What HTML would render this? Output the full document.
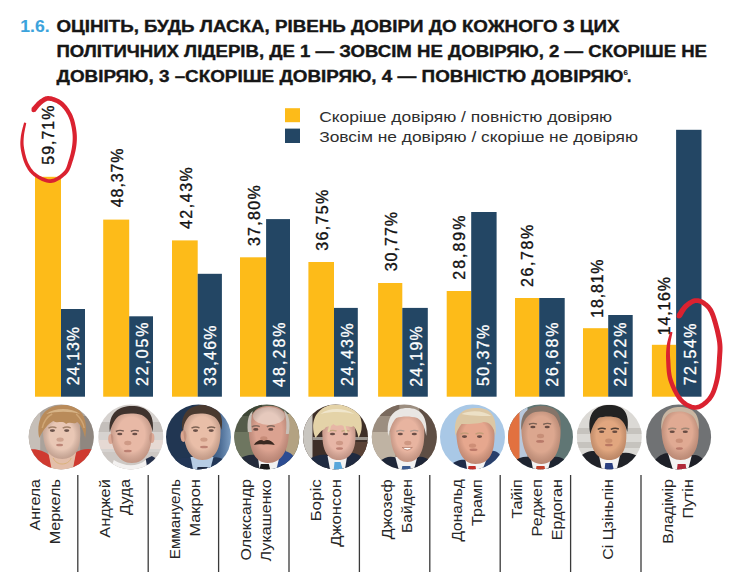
<!DOCTYPE html><html><head><meta charset="utf-8"><style>html,body{margin:0;padding:0;background:#fff;}svg{display:block;}text{font-family:"Liberation Sans",sans-serif;}</style></head><body><svg width="736" height="587" viewBox="0 0 736 587"><rect width="736" height="587" fill="#fff"/><g font-weight="bold" font-size="15.6" fill="#161616" stroke="#161616" stroke-width="0.35"><text x="20.3" y="32" fill="#3BA3DC" stroke="#3BA3DC" stroke-width="0.1" textLength="29.3" lengthAdjust="spacingAndGlyphs">1.6.</text><text x="56.5" y="32" textLength="563" lengthAdjust="spacingAndGlyphs">ОЦІНІТЬ, БУДЬ ЛАСКА, РІВЕНЬ ДОВІРИ ДО КОЖНОГО З ЦИХ</text><text x="56.5" y="56.6" textLength="650.5" lengthAdjust="spacingAndGlyphs">ПОЛІТИЧНИХ ЛІДЕРІВ, ДЕ 1 — ЗОВСІМ НЕ ДОВІРЯЮ, 2 — СКОРІШЕ НЕ</text><text x="56.5" y="81.5" textLength="567" lengthAdjust="spacingAndGlyphs">ДОВІРЯЮ, 3 –СКОРІШЕ ДОВІРЯЮ, 4 — ПОВНІСТЮ ДОВІРЯЮ</text><text x="623.5" y="74.5" font-size="8" stroke-width="0.1">6</text><text x="627" y="81.5">.</text></g><rect x="285" y="108.2" width="15" height="14" fill="#FDBB19"/><rect x="285" y="128.6" width="15" height="14.4" fill="#234664"/><g font-size="14.6" fill="#2e2e2e"><text x="319.2" y="121.8" textLength="293" lengthAdjust="spacingAndGlyphs">Скоріше довіряю / повністю довіряю</text><text x="319.2" y="142.1" textLength="318.8" lengthAdjust="spacingAndGlyphs">Зовсім не довіряю / скоріше не довіряю</text></g><rect x="35.00" y="176.80" width="26.00" height="219.90" fill="#FDBB19"/><rect x="61.00" y="309.00" width="24.00" height="87.70" fill="#234664"/><text transform="translate(53.90 164.70) rotate(-90)" font-size="16" textLength="59.10" fill="#111" stroke="#111" stroke-width="0.35">59,71%</text><text transform="translate(78.90 385.30) rotate(-90)" font-size="16" textLength="58.30" fill="#fff" stroke="#fff" stroke-width="0.3">24,13%</text><rect x="103.20" y="219.60" width="26.00" height="177.10" fill="#FDBB19"/><rect x="129.20" y="316.30" width="23.80" height="80.40" fill="#234664"/><text transform="translate(123.20 207.20) rotate(-90)" font-size="16" textLength="58.80" fill="#111" stroke="#111" stroke-width="0.35">48,37%</text><text transform="translate(147.70 386.10) rotate(-90)" font-size="16" textLength="63.70" fill="#fff" stroke="#fff" stroke-width="0.3">22,05%</text><rect x="172.00" y="240.40" width="25.70" height="156.30" fill="#FDBB19"/><rect x="197.70" y="273.80" width="24.20" height="122.90" fill="#234664"/><text transform="translate(191.60 229.10) rotate(-90)" font-size="16" textLength="61.90" fill="#111" stroke="#111" stroke-width="0.35">42,43%</text><text transform="translate(215.60 386.10) rotate(-90)" font-size="16" textLength="60.70" fill="#fff" stroke="#fff" stroke-width="0.3">33,46%</text><rect x="240.00" y="257.30" width="26.10" height="139.40" fill="#FDBB19"/><rect x="266.10" y="219.10" width="23.90" height="177.60" fill="#234664"/><text transform="translate(259.60 246.10) rotate(-90)" font-size="16" textLength="60.90" fill="#111" stroke="#111" stroke-width="0.35">37,80%</text><text transform="translate(284.60 386.90) rotate(-90)" font-size="16" textLength="64.50" fill="#fff" stroke="#fff" stroke-width="0.3">48,28%</text><rect x="308.40" y="262.00" width="25.60" height="134.70" fill="#FDBB19"/><rect x="334.00" y="307.90" width="23.80" height="88.80" fill="#234664"/><text transform="translate(327.60 250.70) rotate(-90)" font-size="16" textLength="60.90" fill="#111" stroke="#111" stroke-width="0.35">36,75%</text><text transform="translate(352.90 386.10) rotate(-90)" font-size="16" textLength="62.90" fill="#fff" stroke="#fff" stroke-width="0.3">24,43%</text><rect x="378.10" y="283.00" width="24.20" height="113.70" fill="#FDBB19"/><rect x="402.30" y="307.90" width="25.50" height="88.80" fill="#234664"/><text transform="translate(396.60 271.30) rotate(-90)" font-size="16" textLength="59.40" fill="#111" stroke="#111" stroke-width="0.35">30,77%</text><text transform="translate(421.60 386.80) rotate(-90)" font-size="16" textLength="60.60" fill="#fff" stroke="#fff" stroke-width="0.3">24,19%</text><rect x="446.70" y="291.00" width="24.50" height="105.70" fill="#FDBB19"/><rect x="471.20" y="212.00" width="25.40" height="184.70" fill="#234664"/><text transform="translate(465.00 279.70) rotate(-90)" font-size="16" textLength="64.10" fill="#111" stroke="#111" stroke-width="0.35">28,89%</text><text transform="translate(489.10 386.10) rotate(-90)" font-size="16" textLength="61.40" fill="#fff" stroke="#fff" stroke-width="0.3">50,37%</text><rect x="515.00" y="298.00" width="24.20" height="98.70" fill="#FDBB19"/><rect x="539.20" y="298.00" width="25.50" height="98.70" fill="#234664"/><text transform="translate(533.10 287.00) rotate(-90)" font-size="16" textLength="62.30" fill="#111" stroke="#111" stroke-width="0.35">26,78%</text><text transform="translate(558.10 386.80) rotate(-90)" font-size="16" textLength="64.40" fill="#fff" stroke="#fff" stroke-width="0.3">26,68%</text><rect x="583.00" y="328.20" width="25.20" height="68.50" fill="#FDBB19"/><rect x="608.20" y="315.00" width="24.50" height="81.70" fill="#234664"/><text transform="translate(602.60 317.80) rotate(-90)" font-size="16" textLength="58.40" fill="#111" stroke="#111" stroke-width="0.35">18,81%</text><text transform="translate(626.40 386.70) rotate(-90)" font-size="16" textLength="64.30" fill="#fff" stroke="#fff" stroke-width="0.3">22,22%</text><rect x="651.90" y="344.80" width="24.20" height="51.90" fill="#FDBB19"/><rect x="676.10" y="129.80" width="25.40" height="266.90" fill="#234664"/><text transform="translate(670.00 335.20) rotate(-90)" font-size="16" textLength="58.20" fill="#111" stroke="#111" stroke-width="0.35">14,16%</text><text transform="translate(695.60 385.30) rotate(-90)" font-size="16" textLength="61.90" fill="#fff" stroke="#fff" stroke-width="0.3">72,54%</text><line x1="77.80" y1="475" x2="77.80" y2="572" stroke="#3a3a3a" stroke-width="1.3"/><line x1="148.20" y1="475" x2="148.20" y2="572" stroke="#3a3a3a" stroke-width="1.3"/><line x1="218.60" y1="475" x2="218.60" y2="572" stroke="#3a3a3a" stroke-width="1.3"/><line x1="289.00" y1="475" x2="289.00" y2="572" stroke="#3a3a3a" stroke-width="1.3"/><line x1="359.40" y1="475" x2="359.40" y2="572" stroke="#3a3a3a" stroke-width="1.3"/><line x1="429.80" y1="475" x2="429.80" y2="572" stroke="#3a3a3a" stroke-width="1.3"/><line x1="500.20" y1="475" x2="500.20" y2="572" stroke="#3a3a3a" stroke-width="1.3"/><line x1="570.60" y1="475" x2="570.60" y2="572" stroke="#3a3a3a" stroke-width="1.3"/><line x1="641.00" y1="475" x2="641.00" y2="572" stroke="#3a3a3a" stroke-width="1.3"/><g font-size="14.6" fill="#262626" text-anchor="end"><text transform="translate(39.50 479.20) rotate(-90)" textLength="51.26" lengthAdjust="spacingAndGlyphs">Ангела</text><text transform="translate(59.50 479.20) rotate(-90)" textLength="65.16" lengthAdjust="spacingAndGlyphs">Меркель</text><text transform="translate(109.90 479.20) rotate(-90)" textLength="58.52" lengthAdjust="spacingAndGlyphs">Анджей</text><text transform="translate(129.90 479.20) rotate(-90)" textLength="35.79" lengthAdjust="spacingAndGlyphs">Дуда</text><text transform="translate(180.30 479.20) rotate(-90)" textLength="80.05" lengthAdjust="spacingAndGlyphs">Еммануель</text><text transform="translate(200.30 479.20) rotate(-90)" textLength="57.43" lengthAdjust="spacingAndGlyphs">Макрон</text><text transform="translate(250.70 479.20) rotate(-90)" textLength="81.35" lengthAdjust="spacingAndGlyphs">Олександр</text><text transform="translate(270.70 479.20) rotate(-90)" textLength="82.19" lengthAdjust="spacingAndGlyphs">Лукашенко</text><text transform="translate(321.10 479.20) rotate(-90)" textLength="42.38" lengthAdjust="spacingAndGlyphs">Боріс</text><text transform="translate(341.10 479.20) rotate(-90)" textLength="67.65" lengthAdjust="spacingAndGlyphs">Джонсон</text><text transform="translate(391.50 479.20) rotate(-90)" textLength="59.95" lengthAdjust="spacingAndGlyphs">Джозеф</text><text transform="translate(411.50 479.20) rotate(-90)" textLength="53.69" lengthAdjust="spacingAndGlyphs">Байден</text><text transform="translate(461.90 479.20) rotate(-90)" textLength="62.38" lengthAdjust="spacingAndGlyphs">Дональд</text><text transform="translate(481.90 479.20) rotate(-90)" textLength="46.75" lengthAdjust="spacingAndGlyphs">Трамп</text><text transform="translate(522.30 479.20) rotate(-90)" textLength="39.43" lengthAdjust="spacingAndGlyphs">Тайіп</text><text transform="translate(542.30 479.20) rotate(-90)" textLength="57.21" lengthAdjust="spacingAndGlyphs">Реджеп</text><text transform="translate(562.30 479.20) rotate(-90)" textLength="60.98" lengthAdjust="spacingAndGlyphs">Ердоган</text><text transform="translate(612.70 479.20) rotate(-90)" textLength="80.66" lengthAdjust="spacingAndGlyphs">Сі Цзіньпін</text><text transform="translate(673.10 479.20) rotate(-90)" textLength="64.60" lengthAdjust="spacingAndGlyphs">Владімір</text><text transform="translate(693.10 479.20) rotate(-90)" textLength="39.43" lengthAdjust="spacingAndGlyphs">Путін</text></g><defs><clipPath id="pc"><circle cx="35" cy="35" r="32.50"/></clipPath><radialGradient id="fs" cx="0.5" cy="0.45" r="0.6"><stop offset="0.55" stop-color="#000" stop-opacity="0"/><stop offset="1" stop-color="#502010" stop-opacity="0.28"/></radialGradient><radialGradient id="vg" cx="0.5" cy="0.5" r="0.5"><stop offset="0.8" stop-color="#fff" stop-opacity="0"/><stop offset="1" stop-color="#fff" stop-opacity="0.25"/></radialGradient></defs><g transform="translate(26.20 402.00)"><g clip-path="url(#pc)"><rect width="70" height="70" fill="#aaa29b"/><rect x="0" y="0" width="14" height="70" fill="#c6bfb8"/><rect x="54" y="14" width="16" height="40" fill="#8f8780"/><path d="M0,48 C8,46 18,48 24,54 L26,70 L0,70 Z" fill="#cf3a30"/><path d="M70,48 C62,46 54,47 49,51 L46,70 L70,70 Z" fill="#cf3a30"/><path d="M22,50 L50,50 L46,70 L26,70 Z" fill="#e3bea9"/><path d="M27,56 C30,64 42,64 45,56" stroke="#d8b070" stroke-width="0.8" fill="none"/><path d="M17,33 C16,18 24,14 36,14 C48,14 55,18 54,33 C54,48 48,57 36,57 C24,57 18,48 17,33 Z" fill="#e9c7b5"/><path fill="url(#fs)" d="M17,33 C16,18 24,14 36,14 C48,14 55,18 54,33 C54,48 48,57 36,57 C24,57 18,48 17,33 Z"/><path d="M22.2,26.1 Q26.2,24.1 30.2,25.8" stroke="#8a6a50" stroke-width="1.4" fill="none" opacity="0.75"/><ellipse cx="26.2" cy="28.6" rx="2.6" ry="1.3" fill="#4a3430" opacity="0.8"/><path d="M36.5,26.1 Q40.5,24.1 44.5,25.8" stroke="#8a6a50" stroke-width="1.4" fill="none" opacity="0.75"/><ellipse cx="40.5" cy="28.6" rx="2.6" ry="1.3" fill="#4a3430" opacity="0.8"/><ellipse cx="33.9" cy="37.6" rx="3.6" ry="2.2" fill="#a0604a" opacity="0.35"/><ellipse cx="33.4" cy="43.0" rx="3.5" ry="1.3" fill="#a05a50" opacity="0.6"/><path d="M13,36 C9,14 21,3 37,3 C53,3 63,13 59,36 C57,28 55,23 51,20 C48,23 44,19 40,22 C36,18 31,22 27,19 C22,22 18,26 13,36 Z" fill="#b98b5a"/><path d="M20,12 C28,6 44,5 54,12 C44,9 30,9 20,12 Z" fill="#d7b488"/><path d="M16,26 C18,18 22,14 26,12 M50,12 C54,16 57,20 58,26" stroke="#cfa676" stroke-width="1.5" fill="none"/></g></g><g transform="translate(95.80 402.00)"><g clip-path="url(#pc)"><rect width="70" height="70" fill="#d6d2cf"/><rect x="0" y="20" width="70" height="10" fill="#c4bfbb"/><rect x="0" y="38" width="70" height="9" fill="#e6d9d3"/><rect x="0" y="50" width="70" height="20" fill="#cdc8c4"/><path d="M18,58 C28,64 40,66 50,58 L56,54 L62,60 L62,70 L14,70 Z" fill="#f3f1f0"/><path d="M50,57 L56,54 C60,56 62,58 63,60 L52,70 Z" fill="#24304a"/><path d="M15,32 C14,15 24,9 36,9 C48,9 57,15 56,32 C56,48 50,61 36,61 C23,61 16,48 15,32 Z" fill="#e8b9a6"/><ellipse cx="15" cy="37" rx="2.6" ry="5" fill="#dca895"/><ellipse cx="56" cy="36" rx="2.6" ry="5" fill="#dca895"/><path fill="url(#fs)" d="M15,32 C14,15 24,9 36,9 C48,9 57,15 56,32 C56,48 50,61 36,61 C23,61 16,48 15,32 Z"/><path d="M20.0,29.5 Q24.0,27.5 28.0,29.2" stroke="#4a3a34" stroke-width="1.4" fill="none" opacity="0.75"/><ellipse cx="24.0" cy="32.0" rx="2.6" ry="1.3" fill="#4a3430" opacity="0.8"/><path d="M35.0,29.5 Q39.0,27.5 43.0,29.2" stroke="#4a3a34" stroke-width="1.4" fill="none" opacity="0.75"/><ellipse cx="39.0" cy="32.0" rx="2.6" ry="1.3" fill="#4a3430" opacity="0.8"/><ellipse cx="32.0" cy="41.0" rx="3.6" ry="2.2" fill="#a0604a" opacity="0.35"/><ellipse cx="32.0" cy="49.0" rx="4.0" ry="1.3" fill="#a05a50" opacity="0.6"/><path d="M14,30 C12,10 24,4 36,4 C51,4 59,11 57,30 C55,21 52,16 46,13 C38,11 29,11 23,14 C18,18 16,24 14,30 Z" fill="#3f332e"/></g></g><g transform="translate(163.50 402.00)"><g clip-path="url(#pc)"><defs><linearGradient id="mgb" x1="0" y1="0" x2="1" y2="0"><stop offset="0.45" stop-color="#213652"/><stop offset="0.8" stop-color="#4a6a92"/><stop offset="1" stop-color="#86a8cc"/></linearGradient></defs><rect width="70" height="70" fill="url(#mgb)"/><path d="M4,62 C12,56 20,55 28,56 L36,70 L0,70 Z" fill="#223656"/><path d="M66,62 C60,56 54,54 48,56 L40,70 L70,70 Z" fill="#223656"/><path d="M27,55 L50,55 L46,70 L30,70 Z" fill="#b7cde4"/><path d="M34,65 L44,65 L45,70 L33,70 Z" fill="#1f2a40"/><path d="M20,30 C19,14 28,9 39,9 C50,9 58,14 57,30 C57,46 52,58 39,58 C27,58 21,46 20,30 Z" fill="#e9bea8"/><ellipse cx="20" cy="34" rx="3" ry="6" fill="#dba690"/><path fill="url(#fs)" d="M20,30 C19,14 28,9 39,9 C50,9 58,14 57,30 C57,46 52,58 39,58 C27,58 21,46 20,30 Z"/><path d="M28.0,26.1 Q32.0,24.1 36.0,25.8" stroke="#5a4438" stroke-width="1.4" fill="none" opacity="0.75"/><ellipse cx="32.0" cy="28.6" rx="2.6" ry="1.3" fill="#4a3430" opacity="0.8"/><path d="M43.7,26.1 Q47.7,24.1 51.7,25.8" stroke="#5a4438" stroke-width="1.4" fill="none" opacity="0.75"/><ellipse cx="47.7" cy="28.6" rx="2.6" ry="1.3" fill="#4a3430" opacity="0.8"/><ellipse cx="40.4" cy="37.6" rx="3.6" ry="2.2" fill="#a0604a" opacity="0.35"/><ellipse cx="40.5" cy="45.0" rx="4.0" ry="1.3" fill="#a05a50" opacity="0.6"/><path d="M19,30 C16,10 27,3 40,3 C53,3 61,11 58,28 C56,20 53,15 47,13 C40,11 31,11 26,14 C22,18 20,23 19,30 Z" fill="#4a3a30"/></g></g><g transform="translate(231.80 402.00)"><g clip-path="url(#pc)"><rect width="70" height="70" fill="#555c4a"/><rect x="0" y="30" width="22" height="30" fill="#6e7660"/><rect x="54" y="12" width="16" height="42" fill="#b3a282"/><rect x="0" y="0" width="30" height="14" fill="#3e4636"/><path d="M6,58 C14,52 22,52 28,54 L34,70 L0,70 Z" fill="#232a3a"/><path d="M64,58 C60,50 54,48 48,50 L40,70 L70,70 Z" fill="#2c4c92"/><path d="M26,54 L49,49 L44,70 L28,70 Z" fill="#f2f2f2"/><path d="M29,62 L37,62 L39,70 L27,70 Z" fill="#1a1a1a"/><path d="M17,30 C16,10 26,4 37,4 C49,4 58,10 57,30 C57,48 50,61 36,61 C23,61 18,48 17,30 Z" fill="#dba290"/><ellipse cx="37" cy="14" rx="16" ry="9" fill="#e8d3c8" opacity="0.8"/><path d="M22,43 C25,38 30,37 32,39 C35,37 40,38 43,43 C39,42 35,42 32,42.5 C29,42 25,42 22,43 Z" fill="#3a2820"/><path fill="url(#fs)" d="M17,30 C16,10 26,4 37,4 C49,4 58,10 57,30 C57,48 50,61 36,61 C23,61 18,48 17,30 Z"/><path d="M20.0,24.9 Q24.0,22.9 28.0,24.6" stroke="#6a5a50" stroke-width="1.4" fill="none" opacity="0.75"/><ellipse cx="24.0" cy="27.4" rx="2.6" ry="1.3" fill="#4a3430" opacity="0.8"/><path d="M35.0,24.9 Q39.0,22.9 43.0,24.6" stroke="#6a5a50" stroke-width="1.4" fill="none" opacity="0.75"/><ellipse cx="39.0" cy="27.4" rx="2.6" ry="1.3" fill="#4a3430" opacity="0.8"/><ellipse cx="32.0" cy="36.4" rx="3.6" ry="2.2" fill="#a0604a" opacity="0.35"/><path d="M16,30 C15,18 17,12 21,9 C19,16 19,22 20,30 Z" fill="#c8c0b8"/><path d="M57,32 C59,20 57,12 52,8 C55,16 55,24 54,32 Z" fill="#c8c0b8"/></g></g><g transform="translate(300.50 402.00)"><g clip-path="url(#pc)"><rect width="70" height="70" fill="#3e2f28"/><rect x="0" y="0" width="12" height="70" fill="#c9c6c0"/><rect x="12" y="35" width="58" height="3" fill="#9a948e"/><rect x="50" y="40" width="20" height="14" fill="#5a4236"/><path d="M8,58 C16,52 24,52 30,54 L36,70 L0,70 Z" fill="#1f2a40"/><path d="M64,58 C58,50 50,50 44,52 L36,70 L70,70 Z" fill="#1f2a40"/><path d="M27,54 L47,52 L44,70 L30,70 Z" fill="#f2f2f2"/><path d="M34,60 L40,60 L43,70 L33,70 Z" fill="#58a6da"/><path d="M22,34 C21,20 28,15 38,15 C49,15 56,20 55,34 C55,48 50,58 38,58 C27,58 22,48 22,34 Z" fill="#e7b6a6"/><path fill="url(#fs)" d="M22,34 C21,20 28,15 38,15 C49,15 56,20 55,34 C55,48 50,58 38,58 C27,58 22,48 22,34 Z"/><path d="M28.0,29.5 Q32.0,27.5 36.0,29.2" stroke="#b8a070" stroke-width="1.4" fill="none" opacity="0.75"/><ellipse cx="32.0" cy="32.0" rx="2.6" ry="1.3" fill="#4a3430" opacity="0.8"/><path d="M41.0,29.5 Q45.0,27.5 49.0,29.2" stroke="#b8a070" stroke-width="1.4" fill="none" opacity="0.75"/><ellipse cx="45.0" cy="32.0" rx="2.6" ry="1.3" fill="#4a3430" opacity="0.8"/><ellipse cx="39.0" cy="41.0" rx="3.6" ry="2.2" fill="#a0604a" opacity="0.35"/><ellipse cx="39.0" cy="46.5" rx="3.5" ry="1.3" fill="#a05a50" opacity="0.6"/><path d="M15,36 C11,28 12,16 18,10 C24,3 34,1 42,3 C52,4 60,10 61,20 C62,27 60,32 58,36 C57,30 55,26 53,24 C50,27 46,22 44,25 C40,21 36,26 33,22 C29,26 26,23 24,27 C21,28 19,31 15,36 Z" fill="#e4d3a8"/><path d="M20,12 C28,6 42,5 54,12 C46,10 32,9 20,12 Z" fill="#f0e6cc"/><path d="M30,22 L28,30 M44,24 L46,31" stroke="#e4d3a8" stroke-width="2"/></g></g><g transform="translate(369.30 402.00)"><g clip-path="url(#pc)"><rect width="70" height="70" fill="#9c8e80"/><rect x="0" y="30" width="26" height="30" fill="#bfb3a3"/><rect x="50" y="0" width="20" height="70" fill="#5e4e44"/><rect x="0" y="0" width="30" height="14" fill="#7a6a5e"/><path d="M10,60 C16,54 22,54 28,56 L36,70 L0,70 Z" fill="#1e2638"/><path d="M62,60 C56,54 50,54 46,56 L36,70 L70,70 Z" fill="#1e2638"/><path d="M26,55 L48,55 L44,70 L30,70 Z" fill="#f2f2f2"/><path d="M33,64 L41,64 L42,70 L32,70 Z" fill="#3a5a90"/><path d="M21,32 C20,17 28,12 38,12 C49,12 56,17 55,32 C55,48 50,60 38,60 C27,60 22,48 21,32 Z" fill="#e8b4a0"/><path fill="url(#fs)" d="M21,32 C20,17 28,12 38,12 C49,12 56,17 55,32 C55,48 50,60 38,60 C27,60 22,48 21,32 Z"/><path d="M27.0,29.5 Q31.0,27.5 35.0,29.2" stroke="#9a9088" stroke-width="1.4" fill="none" opacity="0.75"/><ellipse cx="31.0" cy="32.0" rx="2.6" ry="1.3" fill="#4a3430" opacity="0.8"/><path d="M41.0,29.5 Q45.0,27.5 49.0,29.2" stroke="#9a9088" stroke-width="1.4" fill="none" opacity="0.75"/><ellipse cx="45.0" cy="32.0" rx="2.6" ry="1.3" fill="#4a3430" opacity="0.8"/><ellipse cx="38.5" cy="41.0" rx="3.6" ry="2.2" fill="#a0604a" opacity="0.35"/><path d="M33.0,45.5 Q38.0,50.5 43.0,45.5 Z" fill="#ffffff" stroke="#a0604a" stroke-width="0.6"/><path d="M19,34 C16,14 26,6 38,6 C51,6 59,14 57,34 C55,24 53,19 48,16 C41,14 33,14 27,16 C23,20 21,26 19,34 Z" fill="#e9e6e3"/></g></g><g transform="translate(437.50 402.00)"><g clip-path="url(#pc)"><rect width="70" height="70" fill="#a9c8e6"/><path d="M12,64 C18,58 24,57 30,58 L34,70 L0,70 Z" fill="#1f2c48"/><path d="M62,52 C58,48 54,48 50,50 L40,70 L70,70 Z" fill="#2a3f6a"/><path d="M28,58 L52,50 L44,70 L30,70 Z" fill="#f4f4f4"/><path d="M31,64 L38,64 L39,70 L30,70 Z" fill="#c0302a"/><path d="M19,34 C18,18 27,13 38,13 C50,13 58,18 57,34 C57,50 52,62 38,62 C26,62 20,50 19,34 Z" fill="#e6a78e"/><path fill="url(#fs)" d="M19,34 C18,18 27,13 38,13 C50,13 58,18 57,34 C57,50 52,62 38,62 C26,62 20,50 19,34 Z"/><path d="M23.0,32.1 Q27.0,30.1 31.0,31.8" stroke="#b89a70" stroke-width="1.4" fill="none" opacity="0.75"/><ellipse cx="27.0" cy="34.6" rx="2.6" ry="1.3" fill="#4a3430" opacity="0.8"/><path d="M38.0,32.1 Q42.0,30.1 46.0,31.8" stroke="#b89a70" stroke-width="1.4" fill="none" opacity="0.75"/><ellipse cx="42.0" cy="34.6" rx="2.6" ry="1.3" fill="#4a3430" opacity="0.8"/><ellipse cx="35.0" cy="43.6" rx="3.6" ry="2.2" fill="#a0604a" opacity="0.35"/><ellipse cx="36.0" cy="47.7" rx="4.0" ry="1.3" fill="#a05a50" opacity="0.6"/><path d="M18,34 C15,12 26,6 39,6 C52,6 60,12 58,34 C56,24 52,20 46,20 C40,22 30,22 24,22 C21,26 19,30 18,34 Z" fill="#dcc7a4"/><path d="M24,12 C32,8 46,8 54,14 C46,14 34,14 24,12 Z" fill="#ece0c6"/></g></g><g transform="translate(505.50 402.00)"><g clip-path="url(#pc)"><rect width="70" height="70" fill="#607674"/><rect x="0" y="0" width="16" height="70" fill="#e2713f"/><rect x="14" y="0" width="8" height="70" fill="#b8c8dc"/><path d="M8,60 C14,54 22,54 28,56 L35,70 L0,70 Z" fill="#1e2430"/><path d="M62,60 C56,54 50,54 44,56 L35,70 L70,70 Z" fill="#1e2430"/><path d="M25,54 L46,54 L42,70 L28,70 Z" fill="#f2f2f2"/><path d="M31,64 L39,64 L40,70 L30,70 Z" fill="#c0402a"/><path d="M16,30 C15,13 25,8 36,8 C47,8 56,13 55,30 C55,48 49,62 36,62 C23,62 17,48 16,30 Z" fill="#dca78f"/><path fill="url(#fs)" d="M16,30 C15,13 25,8 36,8 C47,8 56,13 55,30 C55,48 49,62 36,62 C23,62 17,48 16,30 Z"/><path d="M23.4,22.5 Q27.4,20.5 31.4,22.2" stroke="#5a4a40" stroke-width="1.4" fill="none" opacity="0.75"/><ellipse cx="27.4" cy="25.0" rx="2.6" ry="1.3" fill="#4a3430" opacity="0.8"/><path d="M37.7,22.5 Q41.7,20.5 45.7,22.2" stroke="#5a4a40" stroke-width="1.4" fill="none" opacity="0.75"/><ellipse cx="41.7" cy="25.0" rx="2.6" ry="1.3" fill="#4a3430" opacity="0.8"/><ellipse cx="35.0" cy="34.0" rx="3.6" ry="2.2" fill="#a0604a" opacity="0.35"/><ellipse cx="34.6" cy="39.4" rx="4.0" ry="1.3" fill="#a05a50" opacity="0.6"/><path d="M16,28 C14,10 24,4 36,4 C49,4 57,10 55,28 C53,18 50,13 44,11 C38,9 30,9 25,12 C20,15 18,20 16,28 Z" fill="#857469"/></g></g><g transform="translate(574.30 402.00)"><g clip-path="url(#pc)"><rect width="70" height="70" fill="#dbd9d5"/><rect x="0" y="26" width="70" height="6" fill="#c6c3be"/><rect x="0" y="40" width="70" height="6" fill="#c6c3be"/><path d="M4,56 C12,48 20,48 26,50 L35,70 L0,70 Z" fill="#202228"/><path d="M66,56 C58,50 50,50 44,52 L35,70 L70,70 Z" fill="#202228"/><path d="M24,50 L46,52 L42,70 L28,70 Z" fill="#f4f4f4"/><path d="M31,61 L38,61 L40,70 L30,70 Z" fill="#2a3f80"/><path d="M16,34 C15,18 24,14 35,14 C46,14 53,18 52,34 C52,48 47,58 35,58 C23,58 17,48 16,34 Z" fill="#e1a67f"/><path fill="url(#fs)" d="M16,34 C15,18 24,14 35,14 C46,14 53,18 52,34 C52,48 47,58 35,58 C23,58 17,48 16,34 Z"/><path d="M23.4,27.3 Q27.4,25.3 31.4,27.0" stroke="#1a1a1a" stroke-width="1.4" fill="none" opacity="0.75"/><ellipse cx="27.4" cy="29.8" rx="2.6" ry="1.3" fill="#4a3430" opacity="0.8"/><path d="M36.5,27.3 Q40.5,25.3 44.5,27.0" stroke="#1a1a1a" stroke-width="1.4" fill="none" opacity="0.75"/><ellipse cx="40.5" cy="29.8" rx="2.6" ry="1.3" fill="#4a3430" opacity="0.8"/><ellipse cx="34.5" cy="38.8" rx="3.6" ry="2.2" fill="#a0604a" opacity="0.35"/><ellipse cx="34.6" cy="43.0" rx="4.0" ry="1.3" fill="#a05a50" opacity="0.6"/><path d="M16,32 C12,10 22,3 35,3 C49,3 56,10 53,30 C51,22 48,18 44,16 C38,14 30,14 24,16 C20,20 18,25 16,32 Z" fill="#222222"/></g></g><g transform="translate(643.60 402.00)"><g clip-path="url(#pc)"><rect width="70" height="70" fill="#707274"/><path d="M10,60 C16,52 22,50 28,52 L36,70 L0,70 Z" fill="#1e2028"/><path d="M62,60 C56,52 50,52 46,54 L36,70 L70,70 Z" fill="#1e2028"/><path d="M24,50 L48,54 L44,70 L30,70 Z" fill="#f4f4f4"/><path d="M34,62 L42,62 L43,70 L33,70 Z" fill="#b02a3a"/><path d="M18,30 C17,12 26,6 36,6 C47,6 56,12 55,30 C55,46 50,58 37,58 C25,58 19,46 18,30 Z" fill="#e0aa93"/><path fill="url(#fs)" d="M18,30 C17,12 26,6 36,6 C47,6 56,12 55,30 C55,46 50,58 37,58 C25,58 19,46 18,30 Z"/><path d="M24.6,27.3 Q28.6,25.3 32.6,27.0" stroke="#8a7a6a" stroke-width="1.4" fill="none" opacity="0.75"/><ellipse cx="28.6" cy="29.8" rx="2.6" ry="1.3" fill="#4a3430" opacity="0.8"/><path d="M37.7,27.3 Q41.7,25.3 45.7,27.0" stroke="#8a7a6a" stroke-width="1.4" fill="none" opacity="0.75"/><ellipse cx="41.7" cy="29.8" rx="2.6" ry="1.3" fill="#4a3430" opacity="0.8"/><ellipse cx="35.7" cy="38.8" rx="3.6" ry="2.2" fill="#a0604a" opacity="0.35"/><ellipse cx="35.8" cy="46.5" rx="3.5" ry="1.3" fill="#a05a50" opacity="0.6"/><path d="M18,28 C16,10 26,5 36,5 C48,5 57,11 55,28 C53,18 50,13 44,11 C38,9 30,9 25,12 C21,15 19,20 18,28 Z" fill="#c9b6a2"/></g></g><path fill="#DA2230" d="M35.42,111.79 L35.77,111.37 L36.21,110.83 L36.69,110.22 L37.22,109.55 L37.80,108.83 L38.41,108.09 L39.04,107.34 L39.67,106.61 L40.31,105.92 L40.92,105.28 L41.50,104.73 L42.05,104.26 L42.65,103.78 L43.27,103.29 L43.86,102.82 L44.42,102.39 L44.96,102.00 L45.48,101.66 L45.99,101.38 L46.49,101.15 L46.98,100.97 L47.48,100.84 L48.01,100.76 L48.60,100.75 L49.31,100.80 L50.13,100.92 L51.02,101.10 L51.97,101.34 L52.95,101.64 L53.96,101.99 L54.97,102.40 L55.97,102.85 L56.95,103.35 L57.89,103.89 L58.78,104.46 L59.60,105.06 L60.40,105.73 L61.21,106.47 L62.01,107.28 L62.81,108.15 L63.59,109.08 L64.35,110.05 L65.08,111.06 L65.79,112.11 L66.47,113.17 L67.11,114.25 L67.71,115.34 L68.26,116.42 L68.76,117.52 L69.22,118.67 L69.66,119.86 L70.06,121.09 L70.42,122.35 L70.76,123.63 L71.07,124.92 L71.35,126.22 L71.61,127.51 L71.83,128.80 L72.04,130.06 L72.22,131.28 L72.37,132.47 L72.49,133.63 L72.58,134.77 L72.64,135.90 L72.67,137.03 L72.68,138.15 L72.66,139.27 L72.62,140.39 L72.55,141.53 L72.46,142.68 L72.35,143.85 L72.22,145.04 L72.06,146.25 L71.87,147.50 L71.65,148.76 L71.40,150.05 L71.13,151.35 L70.83,152.65 L70.52,153.94 L70.19,155.23 L69.84,156.48 L69.49,157.71 L69.12,158.91 L68.75,160.07 L68.38,161.23 L68.04,162.37 L67.71,163.47 L67.39,164.53 L67.05,165.55 L66.70,166.52 L66.33,167.46 L65.92,168.35 L65.46,169.19 L64.95,170.01 L64.37,170.79 L63.69,171.55 L62.88,172.36 L61.96,173.21 L60.95,174.07 L59.87,174.92 L58.73,175.75 L57.56,176.53 L56.36,177.24 L55.16,177.87 L53.97,178.40 L52.81,178.82 L51.70,179.11 L50.67,179.25 L49.63,179.26 L48.50,179.15 L47.30,178.91 L46.05,178.56 L44.77,178.11 L43.48,177.58 L42.20,176.98 L40.94,176.33 L39.72,175.64 L38.55,174.94 L37.45,174.23 L36.45,173.54 L35.55,172.87 L34.72,172.17 L33.93,171.43 L33.19,170.67 L32.49,169.87 L31.83,169.03 L31.20,168.15 L30.60,167.24 L30.02,166.30 L29.45,165.31 L28.91,164.29 L28.38,163.24 L27.87,162.16 L27.40,161.00 L26.94,159.77 L26.51,158.50 L26.11,157.18 L25.73,155.84 L25.38,154.50 L25.06,153.15 L24.77,151.83 L24.51,150.55 L24.28,149.31 L24.08,148.14 L23.91,147.04 L23.77,146.00 L23.67,144.98 L23.60,144.00 L23.56,143.04 L23.55,142.08 L23.56,141.13 L23.59,140.18 L23.65,139.21 L23.71,138.22 L23.80,137.21 L23.89,136.18 L24.00,135.09 L24.15,133.93 L24.34,132.69 L24.57,131.42 L24.81,130.14 L25.07,128.87 L25.32,127.64 L25.57,126.47 L25.80,125.39 L26.00,124.43 L26.16,123.60 L26.27,122.94 L24.13,122.46 L23.95,123.09 L23.73,123.88 L23.47,124.83 L23.17,125.89 L22.86,127.05 L22.53,128.28 L22.21,129.56 L21.89,130.86 L21.59,132.16 L21.32,133.44 L21.09,134.67 L20.91,135.82 L20.78,136.90 L20.66,137.94 L20.55,138.97 L20.47,139.99 L20.40,141.00 L20.35,142.03 L20.33,143.07 L20.34,144.13 L20.38,145.21 L20.45,146.32 L20.57,147.47 L20.72,148.66 L20.92,149.90 L21.15,151.19 L21.42,152.53 L21.71,153.91 L22.04,155.32 L22.40,156.73 L22.79,158.15 L23.21,159.55 L23.66,160.92 L24.15,162.26 L24.67,163.54 L25.22,164.76 L25.79,165.90 L26.37,167.00 L26.97,168.08 L27.61,169.13 L28.28,170.16 L28.99,171.16 L29.75,172.13 L30.55,173.07 L31.41,173.97 L32.33,174.84 L33.31,175.67 L34.35,176.46 L35.44,177.22 L36.62,178.00 L37.88,178.77 L39.20,179.52 L40.58,180.24 L42.00,180.92 L43.46,181.53 L44.94,182.05 L46.43,182.48 L47.94,182.79 L49.44,182.95 L50.93,182.95 L52.41,182.75 L53.88,182.39 L55.34,181.89 L56.78,181.27 L58.19,180.56 L59.56,179.76 L60.89,178.90 L62.17,177.99 L63.37,177.06 L64.51,176.12 L65.55,175.18 L66.51,174.25 L67.39,173.28 L68.17,172.26 L68.85,171.22 L69.45,170.15 L69.97,169.07 L70.43,167.98 L70.84,166.88 L71.22,165.77 L71.58,164.67 L71.93,163.56 L72.28,162.46 L72.65,161.33 L73.04,160.14 L73.43,158.90 L73.81,157.61 L74.18,156.30 L74.53,154.96 L74.87,153.61 L75.19,152.25 L75.48,150.89 L75.75,149.53 L75.99,148.18 L76.21,146.86 L76.38,145.56 L76.53,144.29 L76.65,143.05 L76.74,141.82 L76.82,140.60 L76.86,139.38 L76.88,138.17 L76.87,136.95 L76.84,135.73 L76.77,134.49 L76.67,133.25 L76.54,131.99 L76.38,130.72 L76.20,129.42 L75.99,128.10 L75.76,126.75 L75.50,125.38 L75.21,124.00 L74.89,122.61 L74.53,121.22 L74.14,119.84 L73.70,118.48 L73.23,117.15 L72.71,115.84 L72.14,114.58 L71.54,113.35 L70.89,112.13 L70.19,110.92 L69.46,109.73 L68.69,108.56 L67.88,107.42 L67.04,106.32 L66.16,105.26 L65.26,104.24 L64.33,103.28 L63.38,102.37 L62.40,101.54 L61.36,100.76 L60.27,100.03 L59.14,99.36 L57.98,98.75 L56.80,98.19 L55.62,97.70 L54.43,97.26 L53.25,96.88 L52.09,96.57 L50.97,96.33 L49.87,96.15 L48.80,96.05 L47.73,96.05 L46.68,96.16 L45.69,96.37 L44.76,96.67 L43.88,97.04 L43.07,97.46 L42.30,97.92 L41.58,98.40 L40.90,98.88 L40.24,99.37 L39.61,99.85 L38.95,100.34 L38.20,100.93 L37.42,101.62 L36.66,102.36 L35.90,103.13 L35.17,103.91 L34.47,104.70 L33.80,105.46 L33.18,106.18 L32.61,106.84 L32.11,107.41 L31.71,107.86 L31.38,108.21 Z"/><path fill="#DA2230" d="M681.42,317.60 L681.73,317.08 L682.12,316.41 L682.56,315.66 L683.03,314.83 L683.54,313.95 L684.09,313.04 L684.66,312.12 L685.25,311.21 L685.84,310.35 L686.42,309.55 L686.98,308.85 L687.53,308.25 L688.12,307.67 L688.77,307.07 L689.44,306.48 L690.13,305.91 L690.82,305.38 L691.52,304.88 L692.21,304.43 L692.89,304.03 L693.55,303.69 L694.18,303.41 L694.76,303.20 L695.32,303.06 L695.88,302.99 L696.45,302.96 L697.04,302.98 L697.63,303.05 L698.23,303.15 L698.84,303.31 L699.45,303.51 L700.07,303.76 L700.70,304.06 L701.32,304.40 L701.95,304.79 L702.60,305.25 L703.28,305.76 L703.96,306.27 L704.60,306.80 L705.23,307.33 L705.83,307.90 L706.42,308.53 L707.01,309.22 L707.59,310.01 L708.17,310.90 L708.76,311.93 L709.35,313.10 L709.94,314.44 L710.55,316.02 L711.20,317.86 L711.87,319.92 L712.54,322.14 L713.21,324.48 L713.86,326.90 L714.48,329.34 L715.07,331.76 L715.61,334.13 L716.09,336.39 L716.50,338.50 L716.83,340.40 L717.09,342.12 L717.28,343.70 L717.40,345.18 L717.48,346.58 L717.51,347.92 L717.50,349.23 L717.46,350.55 L717.39,351.88 L717.31,353.25 L717.21,354.70 L717.11,356.23 L717.00,357.85 L716.91,359.56 L716.81,361.32 L716.70,363.14 L716.57,364.99 L716.43,366.87 L716.26,368.76 L716.07,370.64 L715.85,372.50 L715.61,374.33 L715.33,376.10 L715.01,377.81 L714.66,379.46 L714.27,381.09 L713.86,382.73 L713.43,384.34 L712.98,385.92 L712.50,387.47 L711.98,388.97 L711.44,390.42 L710.86,391.81 L710.24,393.13 L709.58,394.36 L708.88,395.51 L708.12,396.58 L707.29,397.63 L706.37,398.68 L705.38,399.70 L704.34,400.68 L703.26,401.61 L702.15,402.45 L701.03,403.21 L699.91,403.86 L698.82,404.40 L697.76,404.80 L696.77,405.07 L695.83,405.21 L694.88,405.22 L693.86,405.11 L692.77,404.90 L691.64,404.56 L690.49,404.12 L689.31,403.57 L688.14,402.92 L686.97,402.18 L685.83,401.36 L684.72,400.46 L683.66,399.50 L682.66,398.48 L681.70,397.37 L680.73,396.09 L679.77,394.67 L678.82,393.13 L677.90,391.49 L677.00,389.78 L676.14,388.03 L675.34,386.24 L674.58,384.46 L673.88,382.70 L673.25,380.98 L672.70,379.34 L672.23,377.76 L671.84,376.15 L671.52,374.51 L671.25,372.85 L671.04,371.18 L670.87,369.50 L670.74,367.84 L670.63,366.18 L670.55,364.55 L670.47,362.95 L670.39,361.39 L670.30,359.89 L670.19,358.47 L670.10,357.11 L670.02,355.81 L669.97,354.54 L669.94,353.31 L669.92,352.10 L669.92,350.92 L669.94,349.76 L669.97,348.62 L670.03,347.47 L670.10,346.34 L670.19,345.20 L670.29,344.05 L670.44,342.85 L670.63,341.61 L670.85,340.36 L671.08,339.12 L671.33,337.90 L671.57,336.73 L671.81,335.63 L672.03,334.61 L672.22,333.69 L672.37,332.90 L672.47,332.26 L670.33,331.74 L670.14,332.34 L669.89,333.09 L669.61,333.97 L669.29,334.97 L668.96,336.06 L668.61,337.22 L668.26,338.45 L667.92,339.71 L667.59,341.00 L667.29,342.28 L667.03,343.56 L666.81,344.80 L666.65,345.99 L666.51,347.18 L666.38,348.37 L666.28,349.57 L666.19,350.79 L666.12,352.02 L666.07,353.28 L666.04,354.57 L666.02,355.90 L666.03,357.26 L666.06,358.67 L666.10,360.11 L666.17,361.60 L666.24,363.14 L666.30,364.75 L666.37,366.41 L666.47,368.12 L666.59,369.87 L666.75,371.65 L666.96,373.44 L667.23,375.25 L667.57,377.07 L667.99,378.88 L668.50,380.66 L669.09,382.43 L669.75,384.26 L670.48,386.13 L671.27,388.02 L672.12,389.91 L673.02,391.78 L673.98,393.61 L674.97,395.39 L676.01,397.09 L677.08,398.69 L678.19,400.18 L679.34,401.52 L680.53,402.74 L681.77,403.88 L683.07,404.95 L684.42,405.93 L685.81,406.82 L687.24,407.62 L688.69,408.31 L690.16,408.88 L691.65,409.33 L693.15,409.64 L694.66,409.80 L696.17,409.79 L697.68,409.59 L699.18,409.20 L700.65,408.64 L702.09,407.95 L703.49,407.14 L704.85,406.23 L706.17,405.24 L707.44,404.17 L708.65,403.04 L709.80,401.86 L710.87,400.66 L711.88,399.42 L712.81,398.11 L713.67,396.71 L714.46,395.26 L715.18,393.75 L715.84,392.19 L716.45,390.59 L717.02,388.96 L717.54,387.30 L718.03,385.62 L718.49,383.93 L718.92,382.24 L719.34,380.54 L719.73,378.77 L720.09,376.93 L720.40,375.05 L720.68,373.13 L720.92,371.19 L721.14,369.24 L721.33,367.30 L721.49,365.38 L721.64,363.48 L721.77,361.64 L721.89,359.85 L722.00,358.15 L722.09,356.55 L722.20,355.04 L722.30,353.58 L722.38,352.16 L722.46,350.75 L722.50,349.33 L722.51,347.88 L722.48,346.39 L722.39,344.83 L722.25,343.19 L722.04,341.45 L721.77,339.60 L721.41,337.58 L720.97,335.38 L720.46,333.05 L719.90,330.62 L719.29,328.13 L718.64,325.63 L717.97,323.15 L717.27,320.74 L716.56,318.44 L715.85,316.28 L715.15,314.31 L714.46,312.56 L713.77,311.01 L713.06,309.61 L712.33,308.35 L711.57,307.22 L710.81,306.20 L710.03,305.28 L709.24,304.47 L708.45,303.73 L707.67,303.07 L706.91,302.47 L706.16,301.91 L705.40,301.35 L704.60,300.79 L703.75,300.26 L702.88,299.78 L702.00,299.36 L701.10,299.00 L700.19,298.70 L699.26,298.47 L698.32,298.29 L697.37,298.19 L696.41,298.17 L695.45,298.21 L694.48,298.34 L693.49,298.54 L692.51,298.84 L691.55,299.21 L690.60,299.66 L689.68,300.15 L688.78,300.70 L687.90,301.28 L687.04,301.89 L686.21,302.53 L685.41,303.19 L684.64,303.86 L683.87,304.55 L683.08,305.34 L682.30,306.22 L681.55,307.15 L680.82,308.12 L680.12,309.10 L679.46,310.07 L678.84,311.01 L678.26,311.90 L677.74,312.71 L677.28,313.41 L676.90,313.97 L676.58,314.40 Z"/><circle cx="33.6" cy="110" r="2.2" fill="#DA2230"/><circle cx="679" cy="316.2" r="2.4" fill="#DA2230"/></svg></body></html>
